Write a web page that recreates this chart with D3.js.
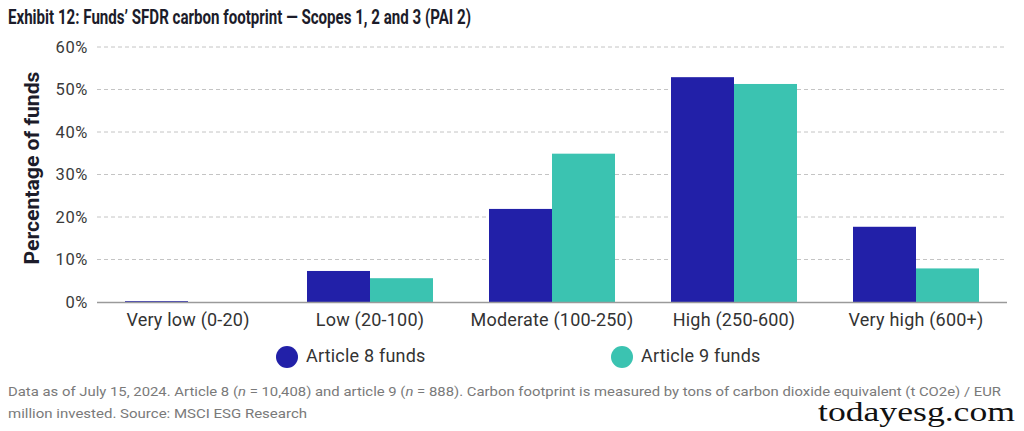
<!DOCTYPE html>
<html><head><meta charset="utf-8">
<script src="https://cdn.jsdelivr.net/npm/d3@7"></script>
<style>body{margin:0;background:#fff}svg{display:block}</style>
</head><body>
<svg id="c" width="1024" height="431"></svg>
<script>
const categories = ["Very low (0-20)", "Low (20-100)", "Moderate (100-250)", "High (250-600)", "Very high (600+)"];
const seriesNames = ["Article 8 funds", "Article 9 funds"];
const article8 = [0.2, 7.3, 21.9, 52.9, 17.7];
const article9 = [0.0, 5.6, 34.9, 51.3, 7.9];
const yTicks = [0, 10, 20, 30, 40, 50, 60];
const colors = ["#2220a8", "#3bc3b1"];

const svg = d3.select("#c");
const m = {l: 97, r: 1007, t: 47, b: 302};
const x = d3.scaleBand().domain(categories).range([m.l, m.r]).paddingInner(0).paddingOuter(0);
const x1 = d3.scaleBand().domain(seriesNames).range([0, 126]);
const y = d3.scaleLinear().domain([0, 60]).range([m.b, m.t]);

// title
svg.append("text").attr("x", 8).attr("y", 24)
  .attr("font-family", "Roboto, sans-serif").attr("font-weight", 700).attr("font-size", 20)
  .attr("fill", "#1c1c2a").attr("textLength", 463).attr("lengthAdjust", "spacingAndGlyphs")
  .text("Exhibit 12: Funds\u2019 SFDR carbon footprint \u2014 Scopes 1, 2 and 3 (PAI 2)");

// grid
const ya = d3.axisLeft(y).tickValues(yTicks).tickFormat(d => d + "%").tickSize(0).tickPadding(9);
const g = svg.append("g").attr("transform", `translate(${m.l},0)`).call(ya);
g.select(".domain").remove();
g.selectAll("text").attr("font-family", "Roboto, sans-serif").attr("font-size", 16.5)
  .attr("letter-spacing", 0.6).attr("fill", "#3a3a3a");
svg.append("g").selectAll("line").data(yTicks.filter(d => d > 0)).join("line")
  .attr("x1", m.l).attr("x2", m.r).attr("y1", d => y(d)).attr("y2", d => y(d))
  .attr("stroke", "#c4c4c4").attr("stroke-width", 1).attr("stroke-dasharray", "4,3");

// bars
const data = categories.map((c, i) => ({c, vals: [article8[i], article9[i]]}));
const grp = svg.append("g").selectAll("g").data(data).join("g")
  .attr("transform", d => `translate(${x(d.c) + x.bandwidth()/2 - 63},0)`);
grp.selectAll("rect").data(d => d.vals.map((v, j) => ({v, s: seriesNames[j], j}))).join("rect")
  .attr("x", d => x1(d.s)).attr("width", x1.bandwidth())
  .attr("y", d => y(d.v)).attr("height", d => y(0) - y(d.v))
  .attr("fill", d => colors[d.j]);

// baseline
svg.append("line").attr("x1", m.l).attr("x2", m.r).attr("y1", y(0) + 0.5).attr("y2", y(0) + 0.5)
  .attr("stroke", "#9a9a9a").attr("stroke-width", 1.5);

// x labels
const xa = d3.axisBottom(x).tickSize(0).tickPadding(10);
const gx = svg.append("g").attr("transform", `translate(0,${m.b + 1})`).call(xa);
gx.select(".domain").remove();
gx.selectAll("text").attr("font-family", "Roboto, sans-serif").attr("font-size", 18)
  .attr("letter-spacing", 0.2).attr("fill", "#333");

// y title
svg.append("text").attr("transform", "translate(39,168) rotate(-90)").attr("text-anchor", "middle")
  .attr("font-family", "Roboto, sans-serif").attr("font-weight", 700).attr("font-size", 21)
  .attr("textLength", 193).attr("lengthAdjust", "spacingAndGlyphs")
  .attr("fill", "#1c1c2a").text("Percentage of funds");

// legend
const legX = [287, 622];
seriesNames.forEach((s, i) => {
  svg.append("circle").attr("cx", legX[i]).attr("cy", 357).attr("r", 11).attr("fill", colors[i]);
  svg.append("text").attr("x", legX[i] + 19).attr("y", 362)
    .attr("font-family", "Roboto, sans-serif").attr("font-size", 18).attr("letter-spacing", 0.2)
    .attr("fill", "#333").text(s);
});

// footnote
const f1 = svg.append("text").attr("x", 8).attr("y", 396)
  .attr("font-family", "Roboto, sans-serif").attr("font-size", 13.5).attr("fill", "#7a7a7a")
  .attr("textLength", 993).attr("lengthAdjust", "spacingAndGlyphs");
f1.append("tspan").text("Data as of July 15, 2024. Article 8 (");
f1.append("tspan").attr("font-style", "italic").text("n");
f1.append("tspan").text(" = 10,408) and article 9 (");
f1.append("tspan").attr("font-style", "italic").text("n");
f1.append("tspan").text(" = 888). Carbon footprint is measured by tons of carbon dioxide equivalent (t CO2e) / EUR");
svg.append("text").attr("x", 8).attr("y", 418)
  .attr("font-family", "Roboto, sans-serif").attr("font-size", 13.5).attr("fill", "#7a7a7a")
  .attr("textLength", 299).attr("lengthAdjust", "spacingAndGlyphs")
  .text("million invested. Source: MSCI ESG Research");

// watermark
svg.append("text").attr("x", 818).attr("y", 421)
  .attr("font-family", "'Liberation Serif', serif").attr("font-size", 27.5).attr("fill", "#111")
  .attr("textLength", 197).attr("lengthAdjust", "spacingAndGlyphs")
  .text("todayesg.com");
</script>
</body></html>
